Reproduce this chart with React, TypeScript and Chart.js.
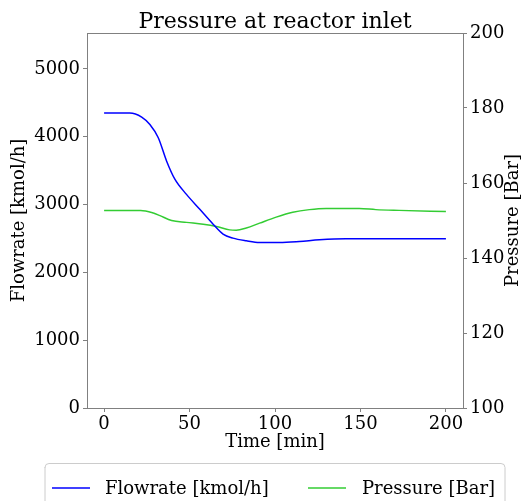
import React, { useEffect, useRef } from "react";
import { Chart, registerables } from "chart.js";

Chart.register(...registerables);

const chartTitle = "Pressure at reactor inlet";
const xAxisTitle = "Time [min]";
const leftAxisTitle = "Flowrate [kmol/h]";
const rightAxisTitle = "Pressure [Bar]";
const flowLabel = "Flowrate [kmol/h]";
const pressureLabel = "Pressure [Bar]";

const xTicks = [0, 50, 100, 150, 200];
const leftTicks = [0, 1000, 2000, 3000, 4000, 5000];
const rightTicks = [100, 120, 140, 160, 180, 200];

const flowTime = [0, 15, 22, 26.8, 31.7, 36.6, 41.4, 48.2, 56, 63.8, 69.6, 75.4, 83.2, 91, 102.6, 114.3, 126, 141.5, 200];
const flowrate = [4350, 4350, 4290, 4180, 3985, 3640, 3375, 3150, 2930, 2710, 2565, 2505, 2465, 2440, 2440, 2455, 2480, 2495, 2495];

const pressureTime = [0, 21.4, 28.8, 32.7, 39.5, 48.2, 58, 65.7, 73.5, 77.3, 83.2, 91, 100.7, 110.4, 120.1, 129.9, 149.3, 159, 172.6, 200];
const pressure = [152.7, 152.7, 152.0, 151.3, 150.0, 149.5, 149.0, 148.4, 147.5, 147.4, 148.0, 149.3, 150.9, 152.2, 152.9, 153.2, 153.2, 152.9, 152.7, 152.4];

const FONT = "'DejaVu Serif', serif";
const AXIS_GRAY = "#808080";
const BLUE = "#0000ff";
const GREEN = "#33cc33";

const plainTick = (v: any) => String(v);

const decorPlugin = {
  id: "decor",
  afterDraw(chart: any) {
    const { ctx, chartArea } = chart;
    ctx.save();
    // top spine
    ctx.strokeStyle = AXIS_GRAY;
    ctx.lineWidth = 1;
    ctx.beginPath();
    ctx.moveTo(chartArea.left, chartArea.top + 0.5);
    ctx.lineTo(chartArea.right, chartArea.top + 0.5);
    ctx.stroke();

    // title
    ctx.fillStyle = "#000";
    ctx.font = `22px ${FONT}`;
    ctx.textAlign = "center";
    ctx.textBaseline = "alphabetic";
    ctx.fillText(chartTitle, (chartArea.left + chartArea.right) / 2, 28);

    // right axis title (bottom to top)
    ctx.save();
    ctx.font = `18px ${FONT}`;
    ctx.translate(513, (chartArea.top + chartArea.bottom) / 2);
    ctx.rotate(-Math.PI / 2);
    ctx.textAlign = "center";
    ctx.textBaseline = "middle";
    ctx.fillText(rightAxisTitle, 0, 0);
    ctx.restore();

    // legend
    const bx = 45, by = 463, bw = 460, bh = 44, r = 4;
    ctx.fillStyle = "rgba(255,255,255,0.8)";
    ctx.strokeStyle = "#cccccc";
    ctx.lineWidth = 1;
    ctx.beginPath();
    ctx.moveTo(bx + r, by + 0.5);
    ctx.lineTo(bx + bw - r, by + 0.5);
    ctx.arcTo(bx + bw, by + 0.5, bx + bw, by + r, r);
    ctx.lineTo(bx + bw, by + bh);
    ctx.lineTo(bx, by + bh);
    ctx.lineTo(bx, by + r);
    ctx.arcTo(bx, by + 0.5, bx + r, by + 0.5, r);
    ctx.closePath();
    ctx.fill();
    ctx.stroke();

    const ds = chart.data.datasets;
    const items = [
      { x: 52, tx: 105, ds: ds[0] },
      { x: 308, tx: 362, ds: ds[1] },
    ];
    ctx.font = `18px ${FONT}`;
    ctx.textAlign = "left";
    ctx.textBaseline = "middle";
    const ly = 488;
    for (const it of items) {
      ctx.strokeStyle = it.ds.borderColor;
      ctx.lineWidth = 1.5;
      ctx.beginPath();
      ctx.moveTo(it.x, ly);
      ctx.lineTo(it.x + 38, ly);
      ctx.stroke();
      ctx.fillStyle = "#000";
      ctx.fillText(it.ds.label, it.tx, ly + 1);
    }
    ctx.restore();
  },
};

export default function App() {
  const ref = useRef<HTMLCanvasElement>(null);

  useEffect(() => {
    if (!ref.current) return;
    const chart = new Chart(ref.current, {
      type: "line",
      data: {
        datasets: [
          {
            label: flowLabel,
            data: flowTime.map((t, i) => ({ x: t, y: flowrate[i] })),
            borderColor: BLUE,
            backgroundColor: BLUE,
            borderWidth: 1.5,
            pointRadius: 0,
            cubicInterpolationMode: "monotone",
            yAxisID: "y",
          },
          {
            label: pressureLabel,
            data: pressureTime.map((t, i) => ({ x: t, y: pressure[i] })),
            borderColor: GREEN,
            backgroundColor: GREEN,
            borderWidth: 1.5,
            pointRadius: 0,
            cubicInterpolationMode: "monotone",
            yAxisID: "y1",
          },
        ],
      },
      options: {
        animation: false,
        responsive: false,
        maintainAspectRatio: false,
        layout: { padding: { top: 33, left: 0, right: 0, bottom: 43 } },
        plugins: {
          legend: { display: false },
          title: { display: false },
          tooltip: { enabled: false },
        },
        scales: {
          x: {
            type: "linear",
            min: -10,
            max: 210,
            afterBuildTicks: (s: any) => {
              s.ticks = xTicks.map((v) => ({ value: v }));
            },
            afterFit: (s: any) => {
              s.height = 50;
            },
            grid: { drawOnChartArea: false, drawTicks: true, tickLength: 4, color: AXIS_GRAY },
            border: { color: AXIS_GRAY },
            ticks: { color: "#000", font: { family: FONT, size: 18 }, padding: 2, maxRotation: 0, callback: plainTick },
            title: {
              display: true,
              text: xAxisTitle,
              color: "#000",
              font: { family: FONT, size: 18 },
              padding: { top: 0, bottom: 5 },
            },
          },
          y: {
            type: "linear",
            position: "left",
            min: 0,
            max: 5530,
            afterBuildTicks: (s: any) => {
              s.ticks = leftTicks.map((v) => ({ value: v }));
            },
            afterFit: (s: any) => {
              s.width = 87;
            },
            grid: { drawOnChartArea: false, drawTicks: true, tickLength: 4, color: AXIS_GRAY },
            border: { color: AXIS_GRAY },
            ticks: { color: "#000", font: { family: FONT, size: 18 }, padding: 3, callback: plainTick },
            title: {
              display: true,
              text: leftAxisTitle,
              color: "#000",
              font: { family: FONT, size: 18 },
              padding: { top: 9, bottom: 0 },
            },
          },
          y1: {
            type: "linear",
            position: "right",
            min: 100,
            max: 200,
            afterBuildTicks: (s: any) => {
              s.ticks = rightTicks.map((v) => ({ value: v }));
            },
            afterFit: (s: any) => {
              s.width = 61;
            },
            grid: { drawOnChartArea: false, drawTicks: true, tickLength: 4, color: AXIS_GRAY },
            border: { color: AXIS_GRAY },
            ticks: { color: "#000", font: { family: FONT, size: 18 }, padding: 3, callback: plainTick },
          },
        },
      },
      plugins: [decorPlugin],
    });
    return () => chart.destroy();
  }, []);

  return (
    <div style={{ position: "fixed", left: 0, top: 0, width: 524, height: 501, background: "#fff" }}>
      <canvas ref={ref} width={524} height={501} style={{ display: "block", width: 524, height: 501 }} />
    </div>
  );
}
